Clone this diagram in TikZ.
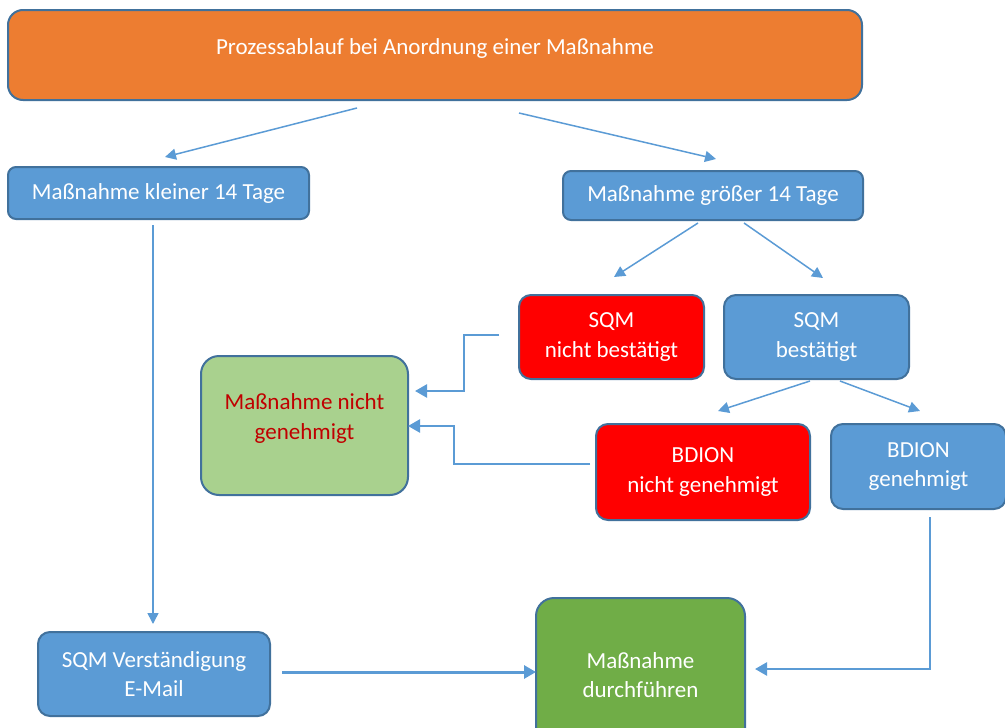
\documentclass[tikz,border=0pt]{standalone}
\usepackage{fontspec}
\setmainfont{Carlito}
\usetikzlibrary{arrows.meta}
\definecolor{orng}{HTML}{ED7D31}
\definecolor{blu}{HTML}{5B9BD5}
\definecolor{blub}{HTML}{41719C}
\definecolor{rd}{HTML}{FF0000}
\definecolor{lgrn}{HTML}{A9D18E}
\definecolor{dgrn}{HTML}{70AD47}
\definecolor{dred}{HTML}{C00000}
\tikzset{
  txt/.style={font=\fontsize{23}{29.5}\selectfont},
  box/.style={draw=blub, line width=2pt, rounded corners=12pt, inner sep=0pt, align=center,
    text=white, txt},
  bluebox/.style={box, fill=blu},
  redbox/.style={box, fill=rd},
  thin/.style={draw=blu, line width=1.5pt, -{Triangle[length=11pt,width=11pt]}},
  thick/.style={draw=blu, line width=3pt, -{Triangle[length=12pt,width=13pt]}}
}
\begin{document}
\begin{tikzpicture}[x=1pt,y=-1pt]
\useasboundingbox (0,0) rectangle (1005,728);
\clip (0,0) rectangle (1005,728);
\node[box, fill=orng, rounded corners=15pt, minimum width=854pt, minimum height=90pt,
  label={[text=white, txt, yshift=7pt]center:Prozessablauf bei Anordnung einer Maßnahme}]
  (top) at (435,55) {};
\node[bluebox, rounded corners=8pt, minimum width=301pt, minimum height=52pt] (kl) at (158.5,193) {Maßnahme kleiner 14 Tage};
\node[bluebox, rounded corners=8pt, minimum width=300pt, minimum height=49pt] (gr) at (713,195.5) {Maßnahme größer 14 Tage};
\node[redbox, minimum width=185pt, minimum height=84pt] (sqmn) at (611.5,337) {SQM\\nicht bestätigt};
\node[bluebox, minimum width=185pt, minimum height=84pt] (sqmb) at (816.5,337) {SQM\\bestätigt};
\node[box, fill=lgrn, text=dred, rounded corners=18pt, minimum width=207pt, minimum height=139pt,
  label={[text=dred, txt, align=center, yshift=7pt]center:Maßnahme nicht\\genehmigt}]
  (mng) at (304.5,425.5) {};
\node[redbox, minimum width=214pt, minimum height=96pt] (bdn) at (703,472) {BDION\\nicht genehmigt};
\node[bluebox, minimum width=175pt, minimum height=85pt] (bdg) at (918.5,466.5) {BDION\\genehmigt};
\node[bluebox, minimum width=232pt, minimum height=84pt] (sqmv) at (154,674) {SQM Verständigung\\E-Mail};
\node[box, fill=dgrn, rounded corners=18pt, minimum width=209pt, minimum height=154pt] (md) at (640.5,675) {Maßnahme\\durchführen};

\coordinate (a1) at (357,108); \coordinate (a1e) at (165,157);
\coordinate (a2) at (519,113); \coordinate (a2e) at (716,159);
\coordinate (a3) at (153,225); \coordinate (a3e) at (153,624);
\coordinate (a4) at (698,223); \coordinate (a4e) at (614,277);
\coordinate (a5) at (744,223); \coordinate (a5e) at (823,278);
\coordinate (a6) at (810,381); \coordinate (a6e) at (718,411);
\coordinate (a7) at (840,381); \coordinate (a7e) at (920,411);
\coordinate (b1) at (499,335); \coordinate (b1e) at (415,391);
\coordinate (b2) at (590,464); \coordinate (b2e) at (408,426);
\coordinate (b3) at (930,517); \coordinate (b3e) at (755,669);
\coordinate (b4) at (282,672); \coordinate (b4e) at (536,672);

\draw[thin] (a1) -- (a1e);
\draw[thin] (a2) -- (a2e);
\draw[thin] (a3) -- (a3e);
\draw[thin] (a4) -- (a4e);
\draw[thin] (a5) -- (a5e);
\draw[thin] (a6) -- (a6e);
\draw[thin] (a7) -- (a7e);
\draw[thick, line width=2.5pt] (b1) -- (464,335) -- (464,391) -- (b1e);
\draw[thick, line width=2.5pt] (b2) -- (454,464) -- (454,426) -- (b2e);
\draw[thick, line width=2.5pt] (b3) -- (930,669) -- (b3e);
\draw[thick] (b4) -- (b4e);
\end{tikzpicture}
\end{document}
